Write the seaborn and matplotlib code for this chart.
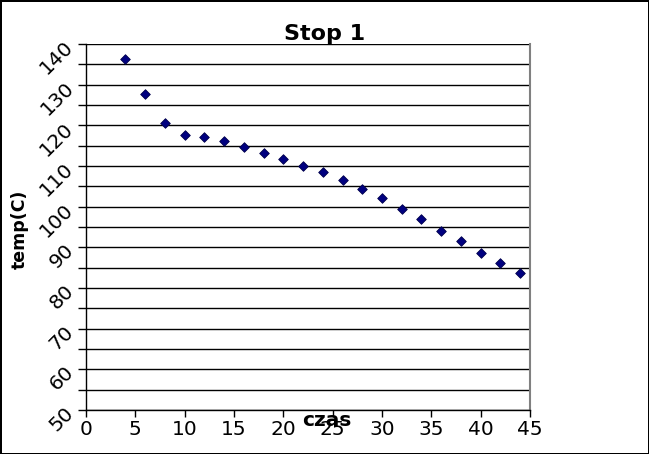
import numpy as np
import pandas as pd
import matplotlib
matplotlib.use("Agg")
import matplotlib.pyplot as plt
import seaborn as sns
from matplotlib.ticker import MultipleLocator

# values
czas = [4, 6, 8, 10, 12, 14, 16, 18, 20, 22, 24, 26, 28, 30, 32, 34, 36, 38, 40, 42, 44]
temp = [136.3, 127.7, 120.6, 117.6, 117.1, 116.1, 114.7, 113.2, 111.7, 110.0, 108.5,
        106.6, 104.3, 102.1, 99.4, 97.0, 94.0, 91.6, 88.6, 86.1, 83.7]

data = pd.DataFrame({"czas": czas, "temp": temp})

sns.set_style("white")
plt.rcParams['font.family'] = ['DejaVu Sans']
plt.rcParams['text.color'] = 'black'
plt.rcParams['xtick.color'] = 'black'
plt.rcParams['ytick.color'] = 'black'

fig = plt.figure(figsize=(6.49, 4.54), dpi=100, linewidth=2, edgecolor='black')
ax = fig.add_axes([86/649, 1 - 410/454, (530 - 86)/649, (410 - 44)/454])

sns.scatterplot(x='czas', y='temp', data=data, ax=ax, marker='D', s=24,
                color='#000080', edgecolor='#00004a', linewidth=0.6, zorder=3)

ax.set_xlim(0, 45)
ax.set_ylim(50, 140)
ax.xaxis.set_major_locator(MultipleLocator(5))
ax.yaxis.set_major_locator(MultipleLocator(10))
ax.yaxis.set_minor_locator(MultipleLocator(5))

ax.grid(True, axis='y', which='both', color='black', linewidth=1.0)
ax.set_axisbelow(True)

ax.tick_params(axis='x', which='major', direction='out', length=5, width=1,
               color='black', labelsize=14.5, labelcolor='black', pad=2, bottom=True)
ax.tick_params(axis='y', which='both', direction='out', length=6, width=1,
               color='black', left=True)
ax.tick_params(axis='y', which='major', labelsize=14.5, labelcolor='black', pad=5)
for lbl in ax.get_yticklabels():
    lbl.set_rotation(45)
    lbl.set_ha('right')
    lbl.set_va('center')
    lbl.set_rotation_mode('anchor')

for side in ['left', 'bottom']:
    ax.spines[side].set_color('black')
    ax.spines[side].set_linewidth(1.0)
ax.spines['right'].set_color('#808080')
ax.spines['right'].set_linewidth(1.5)
ax.spines['top'].set_visible(False)

ax.set_xlabel('')
ax.set_ylabel('')
fig.text(327/649, 1 - 421/454, 'czas', ha='center', va='center',
         fontsize=14.5, fontweight='bold', color='black')
fig.text(20/649, 1 - 229/454, 'temp(C)', ha='center', va='center',
         rotation=90, fontsize=12.5, fontweight='bold', color='black')
fig.text(325/649, 1 - 34/454, 'Stop 1', ha='center', va='center',
         fontsize=16, fontweight='bold', color='black')

fig.savefig("out.png", dpi=100, edgecolor=fig.get_edgecolor())
